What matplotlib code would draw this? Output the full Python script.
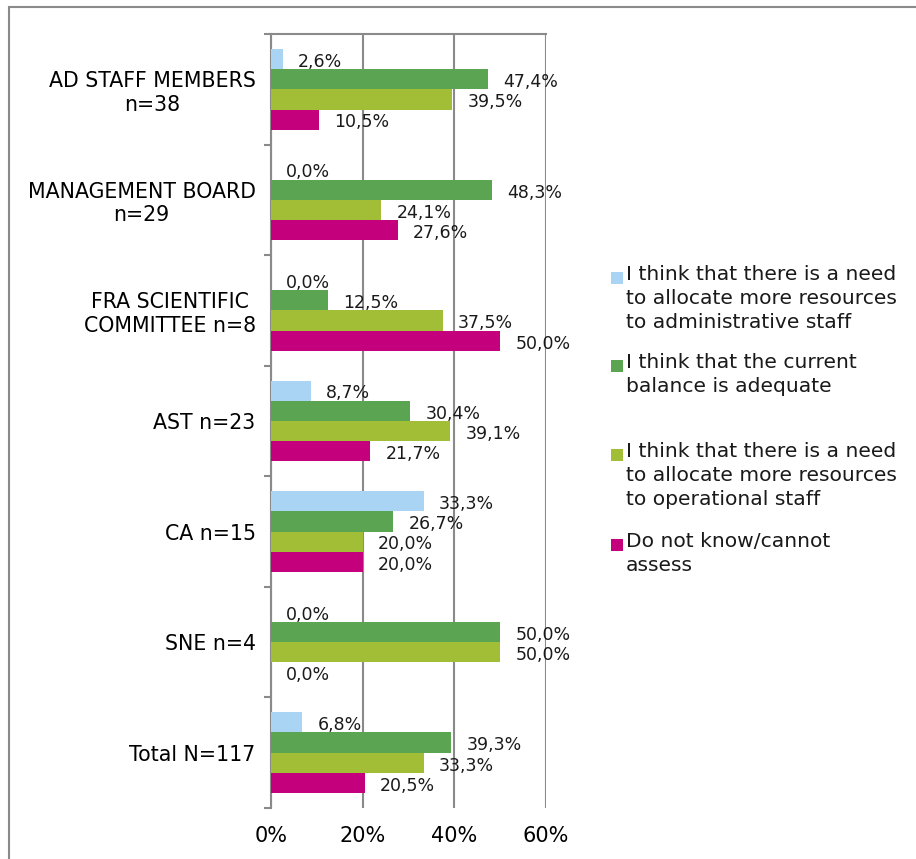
import matplotlib
matplotlib.use("Agg")
import matplotlib.pyplot as plt
from matplotlib.patches import Rectangle
import numpy as np

plt.rcParams['font.family'] = ['DejaVu Sans']

categories = ["AD STAFF MEMBERS\nn=38", "MANAGEMENT BOARD\nn=29",
              "FRA SCIENTIFIC\nCOMMITTEE n=8", "AST n=23", "CA n=15",
              "SNE n=4", "Total N=117"]
series_names = ["I think that there is a need\nto allocate more resources\nto administrative staff",
                "I think that the current\nbalance is adequate",
                "I think that there is a need\nto allocate more resources\nto operational staff",
                "Do not know/cannot\nassess"]
admin_more = [2.6, 0.0, 0.0, 8.7, 33.3, 0.0, 6.8]
balance_ok = [47.4, 48.3, 12.5, 30.4, 26.7, 50.0, 39.3]
oper_more = [39.5, 24.1, 37.5, 39.1, 20.0, 50.0, 33.3]
dont_know = [10.5, 27.6, 50.0, 21.7, 20.0, 0.0, 20.5]
series = [admin_more, balance_ok, oper_more, dont_know]
colors = ["#A9D4F4", "#5BA552", "#A2BE37", "#C5007D"]
xticks = [0, 20, 40, 60]
xticklabels = ["0%", "20%", "40%", "60%"]

W, H = 916, 859
fig = plt.figure(figsize=(W / 100, H / 100), dpi=100)
ax = fig.add_axes([271 / W, 1 - 808 / H, (546 - 271) / W, (808 - 34) / H])

n = len(categories)
y = np.arange(n)
h = 0.183
offs = [-1.5 * h, -0.5 * h, 0.5 * h, 1.5 * h]
for vals, col, off in zip(series, colors, offs):
    ax.barh(y + off, vals, height=h, color=col, zorder=3)
    for yy, v in zip(y + off, vals):
        ax.annotate(f"{v:.1f}%".replace(".", ","), xy=(v, yy), xytext=(11, -2),
                    textcoords="offset points", ha="left", va="center",
                    fontsize=12.5, color="#1a1a1a", zorder=4)

ax.set_xlim(0, 60)
ax.set_ylim(n - 0.5, -0.5)
ax.set_xticks(xticks)
ax.set_xticklabels(xticklabels, fontsize=15)
ax.tick_params(axis="x", length=0, pad=13)
ax.set_yticks(y)
ax.set_yticklabels(categories, fontsize=14.8, multialignment="center",
                   linespacing=1.22)
ax.tick_params(axis="y", length=0, pad=11)
ax.set_yticks(np.arange(n + 1) - 0.5, minor=True)
ax.tick_params(axis="y", which="minor", length=5, width=1.5, color="#8a8a8a")
ax.grid(axis="x", color="#8a8a8a", linewidth=1.5, zorder=0)
for s in ["bottom", "right"]:
    ax.spines[s].set_visible(False)
for s in ["left", "top"]:
    ax.spines[s].set_color("#8a8a8a")
    ax.spines[s].set_linewidth(1.5)

# legend drawn manually (handles aligned with first text line)
legend_tops = [270, 358, 447, 537]
for name, col, top in zip(series_names, colors, legend_tops):
    fig.patches.append(Rectangle((611 / W, 1 - (top + 14) / H), 12 / W, 12 / H,
                                 transform=fig.transFigure, facecolor=col,
                                 edgecolor="none"))
    fig.text(626 / W, 1 - (top - 5) / H, name, ha="left", va="top",
             fontsize=14.6, linespacing=1.33, color="#1a1a1a")

# outer frame
fig.patches.append(Rectangle((9 / W, -0.1), 1.2, 1 - 7 / H + 0.1,
                             transform=fig.transFigure, fill=False,
                             edgecolor="#8a8a8a", linewidth=1.5))

fig.savefig("out.png", dpi=100)
